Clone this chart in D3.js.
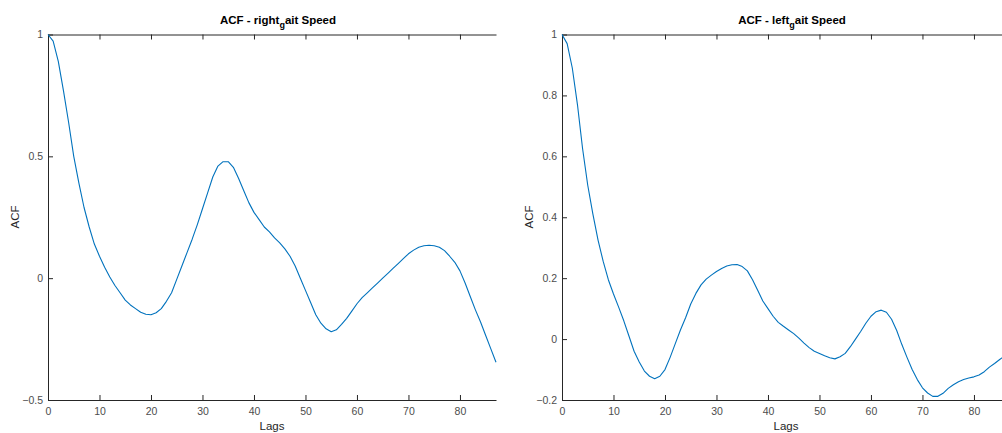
<!DOCTYPE html>
<html>
<head>
<meta charset="utf-8">
<script src="https://cdn.jsdelivr.net/npm/d3@7"></script>
<style>
  html, body { margin: 0; padding: 0; background: #fff; overflow: hidden; }
  svg { display: block; }
  text { font-family: "Liberation Sans", Arial, sans-serif; }
</style>
</head>
<body>
<svg id="fig" width="1002" height="433"></svg>
<script>
// Autocorrelation of gait speed, one value per integer lag (0..87)
const lags = d3.range(0, 88);

const rightAcf = [
  1.0, 0.973, 0.89, 0.77, 0.64, 0.50, 0.39, 0.29, 0.21, 0.14,
  0.09, 0.045, 0.005, -0.03, -0.06, -0.09, -0.11, -0.125, -0.14, -0.148,
  -0.15, -0.142, -0.125, -0.095, -0.06, -0.005, 0.05, 0.105, 0.16, 0.22,
  0.285, 0.35, 0.415, 0.46, 0.478, 0.478, 0.455, 0.41, 0.36, 0.31,
  0.27, 0.24, 0.21, 0.19, 0.165, 0.145, 0.12, 0.09, 0.05, 0.0,
  -0.05, -0.10, -0.15, -0.185, -0.208, -0.22, -0.212, -0.19, -0.165, -0.135,
  -0.105, -0.08, -0.06, -0.04, -0.02, 0.0, 0.02, 0.04, 0.06, 0.08,
  0.10, 0.115, 0.127, 0.133, 0.135, 0.133, 0.127, 0.113, 0.09, 0.065,
  0.03, -0.02, -0.075, -0.13, -0.18, -0.235, -0.29, -0.345
];

const leftAcf = [
  1.0, 0.97, 0.89, 0.77, 0.625, 0.505, 0.41, 0.325, 0.255, 0.195,
  0.148, 0.105, 0.06, 0.01, -0.04, -0.075, -0.105, -0.122, -0.13, -0.122,
  -0.10, -0.06, -0.015, 0.03, 0.07, 0.115, 0.15, 0.178, 0.197, 0.21,
  0.222, 0.232, 0.24, 0.244, 0.245, 0.238, 0.224, 0.195, 0.16, 0.125,
  0.10, 0.075, 0.055, 0.042, 0.03, 0.018, 0.003, -0.013, -0.028, -0.04,
  -0.047, -0.055, -0.061, -0.065, -0.058, -0.047, -0.025, 0.0, 0.025, 0.052,
  0.075, 0.09, 0.095, 0.088, 0.065, 0.028, -0.018, -0.06, -0.10, -0.133,
  -0.16, -0.177, -0.188, -0.188, -0.178, -0.162, -0.15, -0.14, -0.133, -0.128,
  -0.124, -0.118, -0.107, -0.092, -0.08, -0.067, -0.055, -0.045
];

const xTicks = [0, 10, 20, 30, 40, 50, 60, 70, 80];
const rightYTicks = [-0.5, 0, 0.5, 1];
const leftYTicks = [-0.2, 0, 0.2, 0.4, 0.6, 0.8, 1];

const panels = [
  { side: "right", values: rightAcf, yDomain: [-0.5, 1], yTicks: rightYTicks, x0: 48 },
  { side: "left", values: leftAcf, yDomain: [-0.2, 1], yTicks: leftYTicks, x0: 562 }
];

const svg = d3.select("#fig");
const axisColor = "#262626";
const plotTop = 34.5, plotBottom = 400, plotWidth = 448;

panels.forEach(p => {
  const x = d3.scaleLinear().domain([0, 87]).range([p.x0, p.x0 + plotWidth]);
  const y = d3.scaleLinear().domain(p.yDomain).range([plotBottom, plotTop]);
  const g = svg.append("g");

  // bottom axis, ticks pointing inward
  const xAxis = g.append("g").attr("transform", `translate(0,${plotBottom})`)
    .call(d3.axisBottom(x).tickValues(xTicks).tickSizeInner(-5).tickSizeOuter(0).tickPadding(8)
      .tickFormat(d3.format("d")));
  // top axis, ticks only
  const xTop = g.append("g").attr("transform", `translate(0,${plotTop})`)
    .call(d3.axisTop(x).tickValues(xTicks).tickSizeInner(-5).tickSizeOuter(0).tickFormat(""));
  // left axis
  const yAxis = g.append("g").attr("transform", `translate(${p.x0},0)`)
    .call(d3.axisLeft(y).tickValues(p.yTicks).tickSizeInner(-5).tickSizeOuter(0).tickPadding(5)
      .tickFormat(d => d3.format("")(d)));

  [xAxis, xTop, yAxis].forEach(a => {
    a.select(".domain").attr("stroke", axisColor).attr("stroke-width", 1);
    a.selectAll(".tick line").attr("stroke", axisColor).attr("stroke-width", 1);
    a.selectAll(".tick text").attr("fill", "#4d4d4d").attr("font-size", 10.5)
      .attr("font-family", "'Liberation Sans', Arial, sans-serif");
  });
  xAxis.selectAll(".tick text").attr("dy", "0.71em");

  // ACF curve
  const line = d3.line().x((d, i) => x(lags[i])).y(d => y(d));
  g.append("path").datum(p.values)
    .attr("fill", "none").attr("stroke", "#0072BD").attr("stroke-width", 1.1)
    .attr("stroke-linejoin", "round")
    .attr("d", line);

  const cx = p.x0 + plotWidth / 2;
  // title with subscripted "g" (right_gait / left_gait)
  const title = g.append("text").attr("x", cx + 6).attr("y", 24)
    .attr("text-anchor", "middle").attr("font-size", 11.5).attr("font-weight", "bold")
    .attr("fill", "#000");
  title.append("tspan").text(`ACF - ${p.side}`);
  title.append("tspan").attr("font-size", 9).attr("dy", 4).text("g");
  title.append("tspan").attr("dy", -4).text("ait Speed");

  // axis labels
  g.append("text").attr("x", cx).attr("y", 430)
    .attr("text-anchor", "middle").attr("font-size", 11.5).attr("fill", "#262626")
    .text("Lags");
  g.append("text")
    .attr("transform", `translate(${p.x0 - 29.5},217) rotate(-90)`)
    .attr("text-anchor", "middle").attr("font-size", 11.5).attr("fill", "#262626")
    .text("ACF");
});
</script>
</body>
</html>
